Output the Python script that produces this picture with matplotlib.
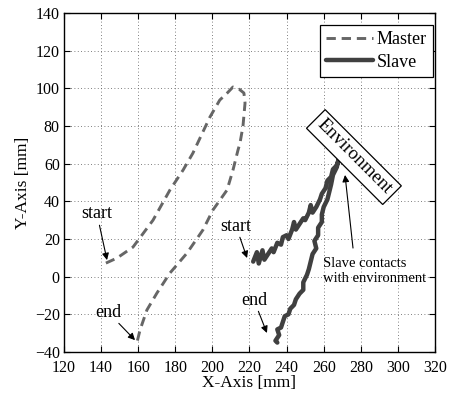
import matplotlib
matplotlib.use("Agg")
import matplotlib.pyplot as plt

plt.rcParams["font.family"] = ["Liberation Serif", "DejaVu Serif"]

# Master trajectory (dashed)
master_x = [142.6, 148.6, 157.2, 168.0, 177.1, 184.2, 189.5, 194.0, 198.7, 204.0,
            208.0, 211.1, 214.5, 217.0, 217.6, 216.5, 214.9, 213.8, 211.1, 207.9,
            200.3, 194.9, 186.3, 177.1, 170.1, 164.7, 161.0, 159.4]
master_y = [7.2, 9.9, 15.7, 30.0, 46.0, 56.6, 65.6, 75.0, 84.8, 93.8,
            97.5, 100.7, 99.5, 97.5, 92.2, 80.0, 71.0, 67.2, 56.6, 46.0,
            35.4, 24.8, 12.5, 1.9, -8.7, -17.7, -28.3, -34.7]

# Slave trajectory (solid, noisy): out to the contact point, then back
slave_x = [222, 224, 225, 227, 228, 230, 232, 233, 235, 237, 238, 240, 241, 243,
           244, 245, 247, 249, 250, 252, 253, 254, 256, 258, 259, 261, 262, 264,
           265, 267, 268,
           267, 265, 264, 263, 262, 260, 259, 259, 257, 257, 255, 256, 254, 253,
           252, 251, 249, 249, 247, 245, 244, 242, 241, 239, 238, 237, 235, 236,
           234, 235]
slave_y = [8, 13, 7, 14, 9, 12, 15, 13, 18, 17, 21, 22, 20, 25,
           29, 25, 28, 31, 30, 34, 38, 34, 37, 41, 44, 47, 51, 53,
           57, 59, 62,
           58, 54, 49, 45, 41, 37, 33, 29, 26, 22, 19, 15, 12, 8,
           4, 1, -3, -7, -9, -12, -15, -17, -20, -21, -24, -27, -28, -31,
           -34, -35]

x_ticks = [120, 140, 160, 180, 200, 220, 240, 260, 280, 300, 320]
y_ticks = [-40, -20, 0, 20, 40, 60, 80, 100, 120, 140]

fig = plt.figure(figsize=(4.49, 3.96), dpi=100)
ax = fig.add_axes([0.1425, 0.1111, 0.8263, 0.8561])

ax.plot(master_x, master_y, color="#666666", lw=2.1, ls=(0, (3.2, 2)), label="Master")
ax.plot(slave_x, slave_y, color="#404040", lw=3.2, solid_joinstyle="round",
        solid_capstyle="round", label="Slave")

ax.set_xlim(120, 320)
ax.set_ylim(-40, 140)
ax.set_xticks(x_ticks)
ax.set_yticks(y_ticks)
ax.tick_params(direction="in", top=True, right=True, labelsize=11.5, length=4, width=0.8)
ax.tick_params(axis="x", pad=6)
ax.tick_params(axis="y", pad=3)
ax.grid(True, ls=(0, (1, 3)), color="#555555", lw=0.6)
for s in ax.spines.values():
    s.set_linewidth(1.0)

ax.set_xlabel("X-Axis [mm]", fontsize=12.5, labelpad=-1)
ax.set_ylabel("Y-Axis [mm]", fontsize=12.5, labelpad=3)

leg = ax.legend(loc="upper right", bbox_to_anchor=(0.995, 0.965), borderaxespad=0,
                fontsize=13, frameon=True, fancybox=False,
                edgecolor="black", framealpha=1, handlelength=2.6, handletextpad=0.2,
                borderpad=0.35, labelspacing=0.3)
leg.get_frame().set_linewidth(0.9)

arrow = dict(arrowstyle="-|>", color="black", lw=0.8, mutation_scale=10, shrinkA=0, shrinkB=0)

ax.annotate("start", xy=(143.2, 8.8), xytext=(137.8, 33.3), fontsize=13,
            ha="center", va="center", arrowprops=arrow)
ax.annotate("end", xy=(158.3, -33.7), xytext=(143.7, -18.8), fontsize=13,
            ha="center", va="center", arrowprops=arrow)
ax.annotate("start", xy=(218.7, 9.9), xytext=(212.7, 26.9), fontsize=13,
            ha="center", va="center", arrowprops=arrow)
ax.annotate("end", xy=(229.4, -29.9), xytext=(222.4, -12.4), fontsize=13,
            ha="center", va="center", arrowprops=arrow)

ax.annotate("", xy=(271.5, 54.0), xytext=(275.8, 15.2), arrowprops=arrow)
ax.text(259.5, 3.0, "Slave contacts\nwith environment", fontsize=10.5,
        ha="left", va="center", linespacing=1.25)

ax.text(276.3, 63.5, "Environment", fontsize=13.5, rotation=-45,
        ha="center", va="center", rotation_mode="anchor",
        bbox=dict(boxstyle="square,pad=0.25", fc="white", ec="black", lw=0.9))

fig.savefig("out.png", dpi=100)
